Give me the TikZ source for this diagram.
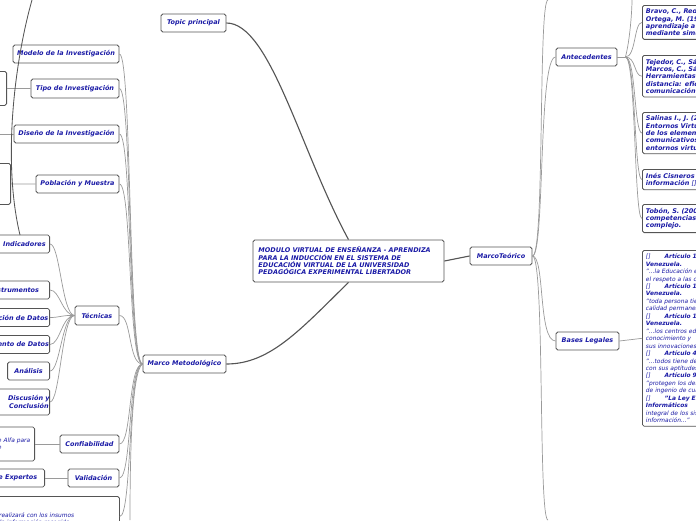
\documentclass[tikz,border=0pt]{standalone}
\usepackage{fontspec}
\setmainfont{DejaVu Sans}
\usetikzlibrary{positioning}
\definecolor{mapBlue}{HTML}{1A1AA6}
\definecolor{mapGray}{HTML}{9A9A9A}
\definecolor{mapEdge}{HTML}{555555}
\tikzset{
  topicbox/.style={draw=mapEdge, line width=0.6pt, rounded corners=1.2pt, fill=white,
    font=\fontsize{4.6}{5.2}\selectfont\bfseries\itshape, text=mapBlue, inner sep=0pt},
  notebox/.style={topicbox, anchor=north west, align=left, text width=5cm, inner sep=2.5pt},
  conn/.style={draw=mapGray, line width=0.5pt},
  mainconn/.style={draw=mapEdge, line width=0.8pt}
}
\begin{document}
\begin{tikzpicture}[x=0.025cm, y=-0.025cm]
\useasboundingbox (0,0) rectangle (696,520);
\clip (0,0) rectangle (696,520);
% central topic
\node[topicbox, minimum width=191*0.025cm, minimum height=42*0.025cm, align=left, text width=4.5cm] (main) at (348.5,261)
  {MODULO VIRTUAL DE ENSEÑANZA - APRENDIZA\\ PARA LA INDUCCIÓN EN EL SISTEMA DE\\ EDUCACIÓN VIRTUAL DE LA UNIVERSIDAD\\ PEDAGÓGICA EXPERIMENTAL LIBERTADOR};
\node[topicbox, minimum width=65*0.025cm, minimum height=18*0.025cm] (topic) at (193.5,23) {Topic principal};
\node[topicbox, minimum width=62*0.025cm, minimum height=18*0.025cm] (teorico) at (501,256) {MarcoTeórico};
\node[topicbox, minimum width=83*0.025cm, minimum height=18*0.025cm] (metodo) at (184.5,364) {Marco Metodológico};
\draw[mainconn] (main.north) .. controls (300,150) and (270,23) .. (topic.east);
\draw[mainconn] (main.east) -- (teorico.west);
\draw[mainconn] (main.south) .. controls (300,330) and (270,364) .. (metodo.east);

% marco teorico
\node[topicbox, minimum width=61*0.025cm, minimum height=18*0.025cm] (antec) at (586.5,57) {Antecedentes};
\node[topicbox, minimum width=63*0.025cm, minimum height=18*0.025cm] (bases) at (587.5,341) {Bases Legales};
\coordinate (tUp) at (548,0);
\coordinate (tDown) at (548,520);
\foreach \n in {antec, bases, tUp, tDown}
  \draw[conn] (teorico.east) .. controls (545,256) and (538,0|-\n) .. (\n);
\draw[conn] (antec.east) -- ++(8,0) coordinate (aHub);
\node[notebox] (bravo) at (642,5) {Bravo, C., Redondo, M. y\\ Ortega, M. (1999). El\\ aprendizaje a distancia\\ mediante simulación};
\node[notebox] (tejedor) at (642,55) {Tejedor, C., Sánchez, J. y\\ Marcos, C., Sánchez (2002).\\ Herramientas de educación a\\ distancia: eficacia de la\\ comunicación};
\node[notebox] (salinas) at (642,112) {Salinas I., J. (2004).\\ Entornos Virtuales: análisis\\ de los elementos\\ comunicativos en los\\ entornos virtuales};
\node[notebox] (cisneros) at (642,169) {Inés Cisneros (2003). La\\ información {\mdseries []}};
\node[notebox] (tobon) at (642,204) {Tobón, S. (2006). Las\\ competencias: pensamiento\\ complejo.};
\coordinate (aTop) at (632,0);
\foreach \n in {bravo, tejedor, salinas, cisneros, tobon}
  \draw[conn] (aHub) .. controls (636,57) and (634,0|-\n.west) .. (\n.west);
\draw[conn] (aHub) .. controls (630,40) and (632,10) .. (aTop);
\newcommand{\gapbox}{{\mdseries[]}\hspace{10pt}}
\node[notebox, font=\fontsize{4.2}{5.3}\selectfont\itshape] (leyes) at (642,250) {%
  {\bfseries\gapbox Artículo 102 de la Constitución\\ Venezuela.}\\ "...la Educación es un derecho humano\\ el respeto a las corrientes del pensamiento\\
  {\bfseries\gapbox Artículo 103 de la Constitución\\ Venezuela.}\\ "toda persona tiene derecho a una educación de\\ calidad permanente"\\
  {\bfseries\gapbox Artículo 110 de la Constitución\\ Venezuela.}\\ "...los centros educativos\\ conocimiento y\\ sus innovaciones"\\
  {\bfseries\gapbox Artículo 4 de la Ley}\\ "...todos tiene derecho a una educación\\ con sus aptitudes"\\
  {\bfseries\gapbox Artículo 98 de la Constitución}\\ "protegen los derechos de autor\\ de ingenio de cualquier\\
  {\bfseries\gapbox "La Ley Especial contra los Delitos\\ Informáticos}\\ integral de los sistemas que\\ información..."};
\draw[conn] (bases.east) -- (leyes.west);

% marco metodologico
\node[topicbox, minimum width=106*0.025cm, minimum height=18*0.025cm] (modelo) at (66,54) {Modelo de la Investigación};
\node[topicbox, minimum width=88*0.025cm, minimum height=19*0.025cm] (tipo) at (75,88.5) {Tipo de Investigación};
\node[topicbox, minimum width=105*0.025cm, minimum height=18*0.025cm] (diseno) at (66.5,134) {Diseño de la Investigación};
\node[topicbox, minimum width=83*0.025cm, minimum height=18*0.025cm] (poblacion) at (77.5,184) {Población y Muestra};
\node[topicbox, minimum width=44*0.025cm, minimum height=19*0.025cm] (tecnicas) at (97,315.5) {Técnicas};
\node[topicbox, minimum width=59*0.025cm, minimum height=18*0.025cm] (confiab) at (89.5,444) {Confiabilidad};
\node[topicbox, minimum width=51*0.025cm, minimum height=18*0.025cm] (valid) at (93.5,478) {Validación};
\node[topicbox, anchor=north west, minimum width=134*0.025cm, minimum height=40*0.025cm, align=left, text width=3.1cm,
  font=\fontsize{4.2}{5.3}\selectfont\itshape] (analisisbox) at (-15,496) {\\[2pt] se realizará con los insumos\\ de la información recogida};
\coordinate (mDown) at (130,520);
\foreach \n in {modelo, tipo, diseno, poblacion, tecnicas, confiab, valid, analisisbox}
  \draw[conn] (metodo.west) .. controls (128,364) and (132,0|-\n.east) .. (\n.east);
\draw[conn] (metodo.west) .. controls (132,370) and (130,450) .. (mDown);

% hojas de la izquierda
\node[topicbox, anchor=north east, minimum width=20*0.025cm, minimum height=34*0.025cm] (tipoHoja) at (7,71) {};
\node[topicbox, anchor=north east, minimum width=20*0.025cm, minimum height=41*0.025cm] (poblHoja) at (11,163) {};
\coordinate (disenoHoja) at (0,134);
\draw[conn] (tipo.west) -- (tipoHoja.east);
\draw[conn] (diseno.west) -- (disenoHoja);
\draw[conn] (poblacion.west) -- (poblHoja.east);
\node[topicbox, anchor=east, minimum width=70*0.025cm, minimum height=18*0.025cm] (indic) at (50,244) {\hspace{14pt}Indicadores};
\node[topicbox, anchor=east, minimum width=70*0.025cm, minimum height=18*0.025cm] (instr) at (50,290) {Instrumentos};
\node[topicbox, anchor=east, minimum width=80*0.025cm, minimum height=18*0.025cm] (recol) at (50,317.5) {Recolección de Datos};
\node[topicbox, anchor=east, minimum width=90*0.025cm, minimum height=18*0.025cm] (proces) at (50,344.5) {Procesamiento de Datos};
\node[topicbox, anchor=east, minimum width=42*0.025cm, minimum height=18*0.025cm] (analisis) at (50,371) {Análisis};
\node[topicbox, anchor=east, minimum width=70*0.025cm, minimum height=26*0.025cm, align=center] (discusion) at (50,402) {\hspace{25pt}Discusión y\\ \hspace{25pt}Conclusión};
\foreach \n in {indic, instr, recol, proces, analisis, discusion}
  \draw[conn] (tecnicas.west) .. controls (62,315) and (60,0|-\n.east) .. (\n.east);
\node[topicbox, anchor=east, minimum width=80*0.025cm, minimum height=34*0.025cm, align=left,
  font=\fontsize{4.2}{5.3}\selectfont\itshape] (confHoja) at (35,444) {Coeficiente de Alfa para\\ el intervalo de};
\node[topicbox, anchor=east, minimum width=80*0.025cm, minimum height=18*0.025cm] (expertos) at (45,478) {Juicio de Expertos};
\draw[conn] (confiab.west) -- (confHoja.east);
\draw[conn] (valid.west) -- (expertos.east);

% rama que llega desde fuera del cuadro
\draw[mapEdge, line width=0.6pt] (32,0) .. controls (15,60) and (2,160) .. (20,235);
\end{tikzpicture}
\end{document}
